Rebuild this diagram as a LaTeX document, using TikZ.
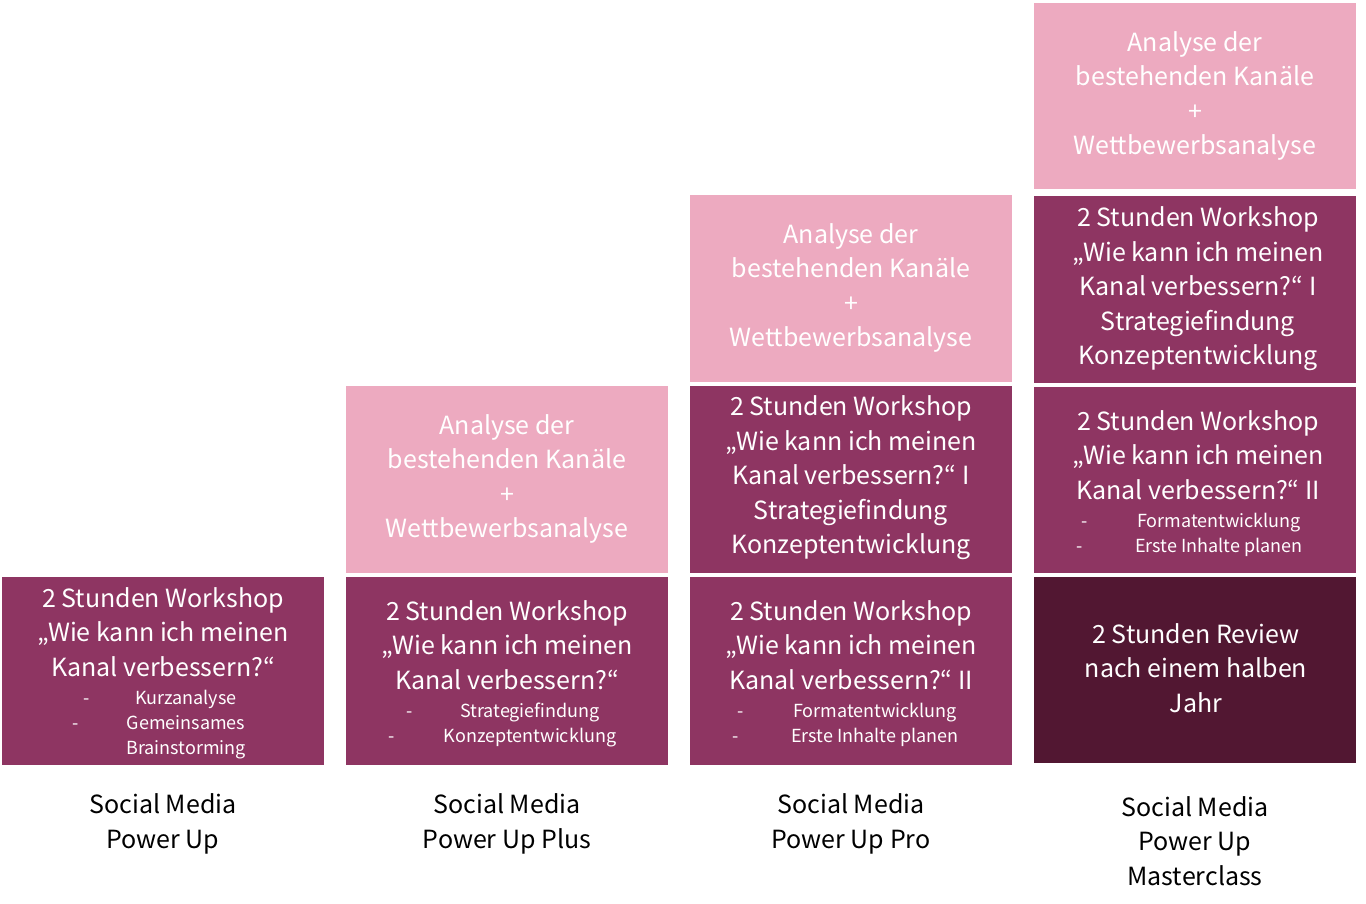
\documentclass[tikz,border=0pt]{standalone}
\usepackage{fontspec}
\setmainfont{Noto Sans CJK JP}
\definecolor{pinkc}{HTML}{EDAAC0}
\definecolor{purp}{HTML}{8E3562}
\definecolor{darkp}{HTML}{521732}
\begin{document}
\begin{tikzpicture}[x=1pt,y=-1pt,
  box/.style={inner sep=0pt},
  big/.style={text=white,align=center,font=\fontsize{25}{34.5}\selectfont},
  small/.style={text=white,font=\fontsize{18}{25}\selectfont,anchor=base},
  lab/.style={text=black,align=center,font=\fontsize{25}{34.5}\selectfont}]
\useasboundingbox (0,0) rectangle (1366,904);
% boxes
\fill[purp] (2,577) rectangle (324,765);
\fill[pinkc] (346,386) rectangle (668,573);
\fill[purp] (346,577) rectangle (668,765);
\fill[pinkc] (690,195) rectangle (1012,382);
\fill[purp] (690,386) rectangle (1012,573);
\fill[purp] (690,577) rectangle (1012,765);
\fill[pinkc] (1034,3) rectangle (1356,189);
\fill[purp] (1034,196) rectangle (1356,383);
\fill[purp] (1034,387) rectangle (1356,573);
\fill[darkp] (1034,577) rectangle (1356,763);
% column 1
\node[big] (c1w) at (163,632) {2 Stunden Workshop\\„Wie kann ich meinen\\Kanal verbessern?“};
\node[small] (c1d1) at (87,704) {-}; \node[small] (c1a) at (186,704) {Kurzanalyse};
\node[small] (c1d2) at (76,729) {-}; \node[small] (c1b) at (186,729) {Gemeinsames};
\node[small] (c1c) at (186,754) {Brainstorming};
% column 2
\node[big] (c2p) at (507,479) {Analyse der\\bestehenden Kanäle\\+\\Wettbewerbsanalyse};
\node[big] (c2w) at (507,645) {2 Stunden Workshop\\„Wie kann ich meinen\\Kanal verbessern?“};
\node[small] (c2d1) at (410,717) {-}; \node[small] (c2a) at (530,717) {Strategiefindung};
\node[small] (c2d2) at (392,742) {-}; \node[small] (c2b) at (530,742) {Konzeptentwicklung};
% column 3
\node[big] (c3p) at (851,288) {Analyse der\\bestehenden Kanäle\\+\\Wettbewerbsanalyse};
\node[big] (c3m) at (851,478) {2 Stunden Workshop\\„Wie kann ich meinen\\Kanal verbessern?“ I\\Strategiefindung\\Konzeptentwicklung};
\node[big] (c3w) at (851,645) {2 Stunden Workshop\\„Wie kann ich meinen\\Kanal verbessern?“ II};
\node[small] (c3d1) at (741,717) {-}; \node[small] (c3a) at (875,717) {Formatentwicklung};
\node[small] (c3d2) at (736,742) {-}; \node[small] (c3b) at (875,742) {Erste Inhalte planen};
% column 4
\node[big] (c4p) at (1195,96) {Analyse der\\bestehenden Kanäle\\+\\Wettbewerbsanalyse};
\node[big] (c4m) at (1198,289) {2 Stunden Workshop\\„Wie kann ich meinen\\Kanal verbessern?“ I\\Strategiefindung\\Konzeptentwicklung};
\node[big] (c4w) at (1198,455) {2 Stunden Workshop\\„Wie kann ich meinen\\Kanal verbessern?“ II};
\node[small] (c4d1) at (1085,527) {-}; \node[small] (c4a) at (1219,527) {Formatentwicklung};
\node[small] (c4d2) at (1080,552) {-}; \node[small] (c4b) at (1219,552) {Erste Inhalte planen};
\node[big] (c4r) at (1196,668) {2 Stunden Review\\nach einem halben\\Jahr};
% labels
\node[lab] (l1) at (163,824) {Social Media\\Power Up};
\node[lab] (l2) at (507,824) {Social Media\\Power Up Plus};
\node[lab] (l3) at (851,824) {Social Media\\Power Up Pro};
\node[lab] (l4) at (1195,841) {Social Media\\Power Up\\Masterclass};
\end{tikzpicture}
\end{document}
